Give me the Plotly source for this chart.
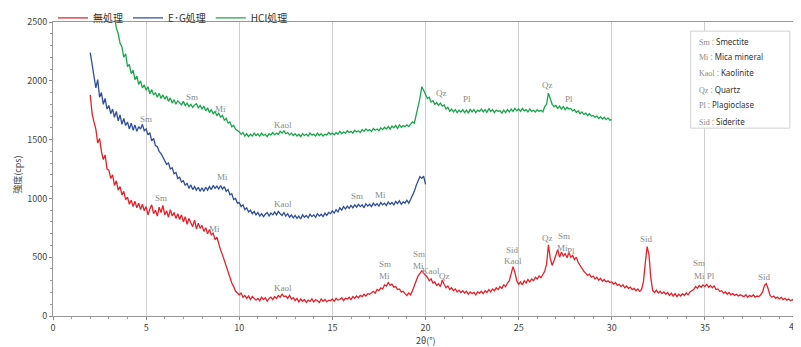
import plotly.graph_objects as go

# XRD scans, 2theta step 0.1 deg
STEP = 0.1

raw_start = 2.0
raw_cps = [
    1880, 1720, 1650, 1590, 1470, 1510, 1400, 1330, 1370, 1250,
    1240, 1170, 1200, 1110, 1150, 1070, 1100, 1030, 1060, 990,
    1010, 950, 985, 930, 975, 920, 960, 905, 950, 895,
    930, 860, 910, 945, 870, 900, 850, 925, 880, 940,
    860, 895, 840, 905, 850, 880, 830, 870, 820, 860,
    800, 845, 780, 830, 790, 760, 815, 740, 790, 745,
    770, 720, 750, 700, 735, 690, 705, 650, 670, 610,
    560, 520, 470, 420, 360, 330, 280, 250, 210, 195,
    180, 195, 160, 175, 150, 170, 140, 165, 150, 135,
    150, 130, 160, 140, 155, 125, 150, 160, 140, 165,
    150, 175, 160, 185, 165, 170, 150, 175, 145, 155,
    130, 150, 120, 145, 125, 140, 115, 135, 125, 145,
    120, 140, 130, 115, 145, 125, 140, 120, 135, 130,
    145, 125, 150, 135, 140, 155, 130, 150, 145, 160,
    140, 165, 150, 170, 155, 175, 165, 185, 170, 190,
    185, 200, 210, 195, 225, 215, 240, 230, 265, 255,
    285, 260, 270, 245, 250, 225, 230, 205, 210, 190,
    175, 195, 180, 215, 250, 300, 340, 360, 385, 365,
    350, 330, 300, 315, 280, 290, 260, 275, 250, 305,
    270, 240, 255, 225, 240, 215, 230, 205, 220, 200,
    215, 195, 210, 185, 205, 190, 200, 180, 205, 195,
    210, 190, 215, 200, 225, 205, 230, 215, 240, 225,
    250, 235, 265, 250, 280, 300, 360, 420, 370, 300,
    270, 290, 265, 300, 280, 310, 290, 315, 300, 330,
    315, 340, 325, 355, 380, 440, 605, 490, 430, 470,
    520, 565, 500, 545, 510, 530, 495, 540, 500, 515,
    480, 500, 455, 430, 400, 380, 365, 345, 355, 330,
    340, 315, 330, 305, 320, 295, 310, 290, 300, 285,
    290, 270, 285, 260, 270, 250, 265, 240, 255, 235,
    245, 225, 235, 215, 230, 210, 225, 290, 450, 590,
    520, 320, 215, 200, 220, 195, 210, 190, 205, 185,
    200, 175, 195, 170, 190, 165, 185, 170, 190, 175,
    195, 180, 205, 215, 225, 250, 235, 260, 245, 265,
    250, 270, 245, 260, 240, 255, 225, 230, 210, 215,
    195, 205, 185, 200, 180, 190, 175, 185, 170, 180,
    175, 165, 180, 160, 175, 165, 180, 160, 170, 165,
    180, 205, 260, 275, 230, 175, 160, 170, 150, 160,
    145, 160, 140, 150, 135, 145, 130, 140, 125, 135,
    130,
]

eg_start = 2.0
eg_cps = [
    2240, 2130, 2060, 1940, 2010, 1860, 1900, 1800, 1850, 1760,
    1790, 1720, 1760, 1690, 1740, 1660, 1710, 1630, 1680, 1620,
    1650, 1590, 1640, 1580, 1625, 1570, 1610, 1590, 1630, 1575,
    1590, 1540, 1560, 1490, 1510, 1450, 1440, 1400, 1380, 1350,
    1330, 1290, 1300, 1250, 1260, 1210, 1220, 1170, 1180, 1140,
    1150, 1110, 1130, 1085, 1115, 1075, 1100, 1070, 1095, 1060,
    1090, 1060, 1095, 1070, 1100, 1075, 1110, 1085, 1105, 1080,
    1110, 1080, 1100, 1060, 1075, 1030, 1040, 990, 1000, 960,
    965, 930, 945, 905, 920, 885, 900, 870, 890, 860,
    880, 850, 870, 845, 865, 880, 850, 875, 860, 885,
    860, 890, 870, 855, 880, 850, 870, 840, 860, 835,
    855, 830, 850, 825, 860, 840, 855, 835, 865, 845,
    860, 840, 870, 850, 865, 845, 875, 855, 880, 870,
    895, 875, 905, 885, 920, 900, 930, 910, 935, 915,
    940, 920, 945, 925, 950, 930, 945, 920, 955, 935,
    950, 930, 960, 940, 955, 935, 965, 945, 960, 940,
    970, 950, 965, 945, 975, 955, 980, 950, 970, 960,
    985, 960, 990, 1020, 1060, 1110, 1150, 1185, 1170, 1190,
    1120,
]

hcl_start = 3.3
hcl_cps = [
    2540, 2450, 2400, 2320, 2290, 2200, 2230,
    2120, 2140, 2060, 2090, 2010, 2040, 1970, 2000, 1940, 1965,
    1920, 1950, 1890, 1925, 1880, 1900, 1860, 1895, 1850, 1880,
    1845, 1870, 1825, 1855, 1810, 1840, 1800, 1830, 1815, 1795,
    1825, 1790, 1810, 1780, 1800, 1775, 1795, 1805, 1770, 1790,
    1760, 1785, 1745, 1770, 1730, 1755, 1720, 1740, 1705, 1725,
    1690, 1705, 1665, 1680, 1640, 1650, 1610, 1620, 1590, 1580,
    1565, 1545, 1560, 1530, 1550, 1525, 1545, 1530, 1555, 1535,
    1550, 1530, 1555, 1535, 1545, 1525, 1550, 1540, 1560, 1540,
    1555, 1545, 1570, 1555, 1575, 1550, 1560, 1540, 1555, 1535,
    1550, 1530, 1545, 1525, 1550, 1535, 1545, 1530, 1555, 1540,
    1545, 1530, 1555, 1535, 1550, 1530, 1545, 1540, 1560, 1545,
    1555, 1540, 1560, 1545, 1570, 1550, 1565, 1555, 1575, 1560,
    1570, 1555, 1580, 1565, 1575, 1560, 1585, 1570, 1590, 1575,
    1585, 1570, 1595, 1580, 1590, 1575, 1600, 1585, 1605, 1590,
    1610, 1590, 1615, 1600, 1620, 1595, 1625, 1605, 1620, 1610,
    1625, 1610, 1635, 1650, 1640, 1700, 1780, 1850, 1950, 1920,
    1880, 1850, 1860, 1820, 1830, 1800, 1815, 1790, 1810, 1785,
    1795, 1760, 1775, 1740, 1760, 1735, 1755, 1730, 1750, 1735,
    1755, 1730, 1750, 1725, 1760, 1735, 1755, 1730, 1750, 1740,
    1760, 1735, 1755, 1730, 1765, 1740, 1755, 1730, 1750, 1740,
    1745, 1725, 1750, 1730, 1755, 1735, 1760, 1740, 1765, 1745,
    1760, 1740, 1765, 1745, 1755, 1735, 1760, 1740, 1750, 1735,
    1755, 1740, 1750, 1735, 1780, 1800, 1895, 1850, 1800, 1780,
    1790, 1765, 1785, 1760, 1780, 1755, 1775, 1760, 1765, 1745,
    1755, 1730, 1745, 1720, 1735, 1715, 1725, 1705, 1720, 1700,
    1705, 1690, 1700, 1680, 1695, 1675, 1690, 1670, 1685, 1665,
    1670,
]

series = [
    ("無処理", raw_start, raw_cps, "#e8202a"),
    ("E･G処理", eg_start, eg_cps, "#2f4f9f"),
    ("HCl処理", hcl_start, hcl_cps, "#1aa64b"),
]

# mineral peak labels: (2theta, cps, text)
peak_labels = [
    (7.48, 1866, "Sm"), (8.98, 1764, "Mi"), (12.35, 1627, "Kaol"),
    (20.87, 1900, "Qz"), (22.21, 1849, "Pl"), (26.55, 1968, "Qz"), (27.68, 1849, "Pl"),
    (5.01, 1678, "Sm"), (9.08, 1184, "Mi"), (12.35, 954, "Kaol"),
    (16.32, 1022, "Sm"), (17.6, 1031, "Mi"),
    (5.81, 1005, "Sm"), (8.65, 741, "Mi"), (12.35, 239, "Kaol"),
    (17.82, 443, "Sm"), (17.82, 341, "Mi"),
    (19.64, 528, "Sm"), (19.6, 426, "Mi"), (20.3, 386, "Kaol"), (21.0, 343, "Qz"),
    (24.66, 562, "Sid"), (24.7, 469, "Kaol"),
    (26.57, 662, "Qz"), (27.41, 682, "Sm"), (27.38, 582, "Mi"), (27.82, 556, "Pl"),
    (31.84, 656, "Sid"), (34.66, 449, "Sm"), (34.97, 341, "Mi Pl"), (38.22, 330, "Sid"),
]

key_abbr = ["Sm", "Mi", "Kaol", "Qz", "Pl", "Sid"]
key_name = ["Smectite", "Mica mineral", "Kaolinite", "Quartz", "Plagioclase", "Siderite"]

x_ticks = [0, 5, 10, 15, 20, 25, 30, 35, 40]
y_ticks = [0, 500, 1000, 1500, 2000, 2500]

fig = go.Figure()

for name, start, cps, color in series:
    x = [round(start + STEP * i, 2) for i in range(len(cps))]
    fig.add_trace(go.Scatter(
        x=x, y=cps, mode="lines", name=name,
        line=dict(color=color, width=1.3),
    ))

serif = "Liberation Serif, DejaVu Serif, serif"
for px, py, txt in peak_labels:
    fig.add_annotation(
        x=px, y=py, text=txt, showarrow=False,
        font=dict(family=serif, size=9, color="#8a8a8a"),
    )

# key box at the top right
fig.add_shape(type="rect", xref="paper", yref="paper",
              x0=0.856, x1=0.989, y0=0.639, y1=0.969,
              line=dict(color="#d0d0d0", width=1), fillcolor="white")
key_y = [0.935, 0.881, 0.827, 0.772, 0.718, 0.663]
for ab, nm, ky in zip(key_abbr, key_name, key_y):
    fig.add_annotation(
        x=0.864, y=ky, xref="paper", yref="paper",
        xanchor="left", yanchor="middle", showarrow=False,
        text=f"<span style='font-family:{serif};color:#8a8a8a'>{ab}</span>"
             f"<span style='color:#8a8a8a'> : </span>{nm}",
        font=dict(family="Noto Sans, sans-serif", size=8, color="#333"),
    )

# axis titles placed by hand
fig.add_annotation(x=0.5, y=-0.085, xref="paper", yref="paper",
                   xanchor="center", yanchor="middle", showarrow=False,
                   text="2θ(°)", font=dict(size=9, color="#444"))
fig.add_annotation(x=-0.047, y=0.48, xref="paper", yref="paper",
                   xanchor="center", yanchor="middle", showarrow=False,
                   text="強度(cps)", textangle=-90, font=dict(size=9, color="#444"))
# last x tick label sits on the right edge (plotly drops it)
fig.add_annotation(x=x_ticks[-1], y=-0.036, xref="x", yref="paper",
                   xanchor="right", yanchor="middle", xshift=3, showarrow=False,
                   text=str(x_ticks[-1]), font=dict(size=9, color="#444"))

# page body adds an 8px margin, so the figure is 8px smaller on each side
fig.update_layout(
    width=793, height=339,
    margin=dict(l=45, r=3, t=14, b=31, autoexpand=False),
    paper_bgcolor="white", plot_bgcolor="white",
    font=dict(family="Noto Sans CJK JP, Noto Sans, sans-serif", color="#444"),
    showlegend=True,
    legend=dict(orientation="h", x=0.0, y=1.014, xanchor="left", yanchor="middle",
                font=dict(size=10, color="#333"),
                bgcolor="rgba(0,0,0,0)", tracegroupgap=0),
    xaxis=dict(
        range=[0, 40], tickvals=x_ticks, ticks="outside", ticklen=3,
        tickcolor="#888", showgrid=True, gridcolor="#cfcfcf", gridwidth=1,
        showline=True, linecolor="#999", mirror=True, zeroline=False,
        minor=dict(dtick=1, ticks="outside", ticklen=2, tickcolor="#999", showgrid=False),
        tickfont=dict(size=9, color="#444"),
    ),
    yaxis=dict(
        range=[0, 2500], tickvals=y_ticks, ticks="outside", ticklen=3,
        tickcolor="#888", showgrid=False, showline=True, linecolor="#999",
        zeroline=False,
        minor=dict(dtick=100, ticks="outside", ticklen=2, tickcolor="#999"),
        tickfont=dict(size=9, color="#444"),
    ),
)

fig.write_html("out.html")
